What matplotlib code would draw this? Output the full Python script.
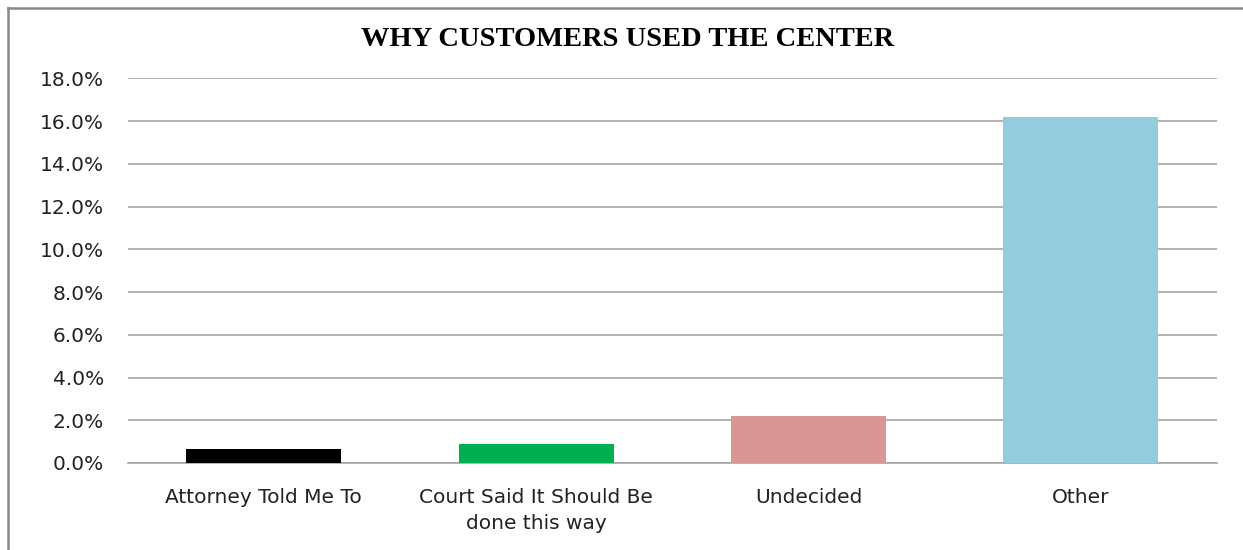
import matplotlib
matplotlib.use("Agg")
import matplotlib.pyplot as plt
from matplotlib.ticker import FuncFormatter, MultipleLocator
from matplotlib.lines import Line2D

categories = ["Attorney Told Me To", "Court Said It Should Be\ndone this way", "Undecided", "Other"]
values = [0.0064, 0.0091, 0.0219, 0.1617]
colors = ["#000000", "#00B050", "#D99694", "#93CDDD"]
title = "WHY CUSTOMERS USED THE CENTER"

fig = plt.figure(figsize=(12.43, 5.5), dpi=100)
ax = fig.add_axes([0.1027, 0.1582, 0.8764, 0.6994])

x = list(range(len(categories)))
ax.bar(x, values, width=0.57, color=colors, zorder=3)
ax.set_xlim(-0.5, len(categories) - 0.5)
ax.set_ylim(0, 0.18)
ax.yaxis.set_major_locator(MultipleLocator(0.02))
ax.yaxis.set_major_formatter(FuncFormatter(lambda v, p: f"{v*100:.1f}%"))
ax.grid(axis="y", color="#a6a6a6", linewidth=1.2, zorder=0)
for s in ["top", "right", "left"]:
    ax.spines[s].set_visible(False)
ax.spines["bottom"].set_color("#a6a6a6")
ax.spines["bottom"].set_linewidth(1.2)
ax.tick_params(axis="y", length=0, labelsize=14.5, colors="#222222", pad=17)
ax.tick_params(axis="x", length=0, labelsize=14.5, colors="#222222", pad=18)
ax.set_xticks(x)
ax.set_xticklabels(categories, fontfamily="DejaVu Sans", linespacing=1.5)
for lbl in ax.get_xticklabels():
    lbl.set_verticalalignment("top")

fig.text(0.505, 0.928, title, ha="center", va="center", fontsize=20.5,
         fontweight="bold", fontfamily="Liberation Serif", color="#000000")

# frame: top and left lines
fig.add_artist(Line2D([0.0068, 1.0], [0.9855, 0.9855], transform=fig.transFigure,
                      color="#888888", linewidth=1.8))
fig.add_artist(Line2D([0.0068, 0.0068], [0.0, 0.9855], transform=fig.transFigure,
                      color="#888888", linewidth=1.8))

fig.savefig("out.png", dpi=100)
